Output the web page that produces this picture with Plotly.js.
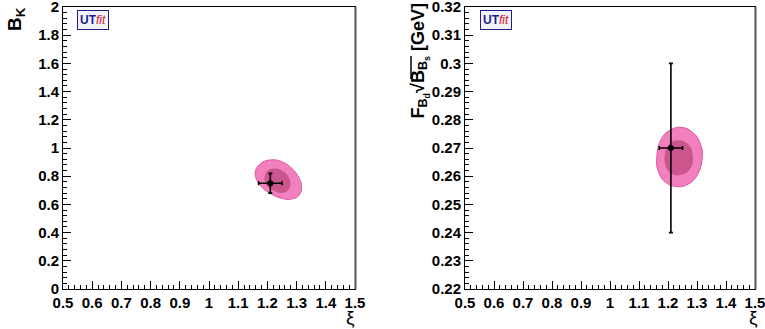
<!DOCTYPE html>
<html>
<head>
<meta charset="utf-8">
<script src="https://cdn.plot.ly/plotly-3.0.1.min.js"></script>
<style>html,body{margin:0;padding:0;background:#fff;}</style>
</head>
<body>
<div id="chart" style="width:765px;height:329px;"></div>
<script>
// ---- Left panel: B_K vs xi ----
const bkPointXi = [1.21];
const bkPointVal = [0.75];
const bkErrXi = [0.04];
const bkErrVal = [0.07];
const bkOuterX = [1.158, 1.175, 1.209, 1.249, 1.283, 1.309, 1.317, 1.309, 1.283, 1.249, 1.209, 1.175, 1.158];
const bkOuterY = [0.820, 0.887, 0.915, 0.903, 0.856, 0.785, 0.726, 0.667, 0.638, 0.643, 0.679, 0.738, 0.820];
const bkInnerX = [1.192, 1.203, 1.226, 1.257, 1.275, 1.274, 1.254, 1.220, 1.198, 1.192];
const bkInnerY = [0.785, 0.839, 0.851, 0.828, 0.773, 0.714, 0.686, 0.702, 0.738, 0.785];

// ---- Right panel: F_Bd sqrt(B_Bs) vs xi ----
const fbPointXi = [1.21];
const fbPointVal = [0.27];
const fbErrXi = [0.04];
const fbErrVal = [0.03];
const fbOuterX = [1.161, 1.178, 1.212, 1.247, 1.287, 1.313, 1.318, 1.304, 1.270, 1.230, 1.190, 1.167, 1.161];
const fbOuterY = [0.2658, 0.2734, 0.2766, 0.2773, 0.2754, 0.2711, 0.2669, 0.2610, 0.2572, 0.2563, 0.2580, 0.2616, 0.2658];
const fbInnerX = [1.190, 1.203, 1.235, 1.270, 1.284, 1.276, 1.247, 1.212, 1.195, 1.190];
const fbInnerY = [0.2669, 0.2711, 0.2726, 0.2711, 0.2669, 0.2628, 0.2607, 0.2610, 0.2634, 0.2669];

const xiRange = [0.49999, 1.50001];
const bkRange = [-0.00001, 2.00001];
const fbRange = [0.219999, 0.320001];

const outerFill = 'rgb(243,128,190)';
const outerLine = 'rgb(222,86,156)';
const innerFill = 'rgb(203,86,142)';

function contour(x, y, fill, line, xa, ya) {
  return {x: x, y: y, xaxis: xa, yaxis: ya, type: 'scatter', mode: 'lines',
    fill: 'toself', fillcolor: fill, line: {color: line, width: 1, shape: 'spline', smoothing: 1.3},
    hoverinfo: 'skip', showlegend: false};
}
function point(x, y, ex, ey, xa, ya) {
  return {x: x, y: y, xaxis: xa, yaxis: ya, type: 'scatter', mode: 'markers',
    marker: {color: 'black', size: 6},
    error_x: {type: 'data', array: ex, color: 'black', thickness: 1.6, width: 2},
    error_y: {type: 'data', array: ey, color: 'black', thickness: 1.6, width: 2},
    showlegend: false};
}

const data = [
  contour(bkOuterX, bkOuterY, outerFill, outerLine, 'x', 'y'),
  contour(bkInnerX, bkInnerY, innerFill, innerFill, 'x', 'y'),
  point(bkPointXi, bkPointVal, bkErrXi, bkErrVal, 'x', 'y'),
  contour(fbOuterX, fbOuterY, outerFill, outerLine, 'x2', 'y2'),
  contour(fbInnerX, fbInnerY, innerFill, innerFill, 'x2', 'y2'),
  point(fbPointXi, fbPointVal, fbErrXi, fbErrVal, 'x2', 'y2')
];

const FONT = 'Liberation Sans, Arial, sans-serif';
const tickFont = {family: FONT, size: 15, color: 'black', weight: 'bold'};
function xAxis(domain, anchor) {
  return {domain: domain, anchor: anchor, range: xiRange, dtick: 0.1, tick0: 0.5,
    ticks: 'inside', ticklen: 8, tickwidth: 1, tickcolor: 'black',
    minor: {dtick: 0.02, ticks: 'inside', ticklen: 4, tickcolor: 'black', tickwidth: 1},
    showline: true, linecolor: 'black', linewidth: 1, mirror: true, ticklabeloverflow: 'allow',
    showgrid: false, zeroline: false, tickfont: tickFont, fixedrange: true};
}
function yAxis(domain, anchor, range, dtick, mdtick, t0) {
  return {domain: domain, anchor: anchor, range: range, dtick: dtick, tick0: t0,
    ticks: 'inside', ticklen: 8, tickwidth: 1, tickcolor: 'black',
    minor: {dtick: mdtick, ticks: 'inside', ticklen: 4, tickcolor: 'black', tickwidth: 1},
    showline: true, linecolor: 'black', linewidth: 1, mirror: true, ticklabeloverflow: 'allow',
    showgrid: false, zeroline: false, tickfont: tickFont, fixedrange: true};
}

const yDom = [1 - 289/329, 1 - 7/329];
const logo = '<span style="color:#1d1d8f"><b>UT</b></span><span style="color:#e0141e"><i>fit</i></span>';
const layout = {
  width: 765, height: 329,
  margin: {l: 0, r: 0, t: 0, b: 0},
  paper_bgcolor: 'white', plot_bgcolor: 'white',
  showlegend: false,
  xaxis: xAxis([63/765, 355/765], 'y'),
  yaxis: yAxis(yDom, 'x', bkRange, 0.2, 0.04, 0),
  xaxis2: xAxis([465/765, 755/765], 'y2'),
  yaxis2: yAxis(yDom, 'x2', fbRange, 0.01, 0.002, 0.22),
  shapes: [
    // ROOT-style frame shadow on the right edges
    {type: 'line', xref: 'paper', yref: 'paper', x0: 355.5/765, x1: 355.5/765, y0: yDom[0], y1: yDom[1],
     line: {color: '#555', width: 2}},
    {type: 'line', xref: 'paper', yref: 'paper', x0: 755.5/765, x1: 755.5/765, y0: yDom[0], y1: yDom[1],
     line: {color: '#555', width: 2}},
    // overline of the square-root sign in the right y title
    {type: 'line', xref: 'paper', yref: 'paper', x0: 411/765, x1: 411/765, y0: 1 - 56/329, y1: 1 - 79/329,
     line: {color: 'black', width: 1.5}}
  ],
  annotations: [
    {xref: 'paper', yref: 'paper', x: 16/765, y: 1 - 5/329, xanchor: 'center', yanchor: 'top',
     textangle: -90, showarrow: false, text: '<b>B<sub>K</sub></b>',
     font: {family: FONT, size: 19, color: 'black'}},
    {xref: 'paper', yref: 'paper', x: 420/765, y: 1 - 2/329, xanchor: 'center', yanchor: 'top',
     textangle: -90, showarrow: false,
     text: '<b>F<sub>B<sub>d</sub></sub>√B<sub>B<sub>s</sub></sub> [GeV]</b>',
     font: {family: FONT, size: 18, color: 'black'}},
    {xref: 'paper', yref: 'paper', x: 350/765, y: 1 - 317/329, xanchor: 'center', yanchor: 'middle',
     showarrow: false, text: 'ξ', font: {family: FONT, size: 19, color: 'black'}},
    {xref: 'paper', yref: 'paper', x: 753/765, y: 1 - 317/329, xanchor: 'center', yanchor: 'middle',
     showarrow: false, text: 'ξ', font: {family: FONT, size: 19, color: 'black'}},
    {xref: 'paper', yref: 'paper', x: 77/765, y: 1 - 10/329, xanchor: 'left', yanchor: 'top',
     showarrow: false, bordercolor: '#1d1d8f', borderwidth: 1, bgcolor: '#f2f2fb', borderpad: 2,
     text: logo, font: {family: FONT, size: 12}},
    {xref: 'paper', yref: 'paper', x: 480/765, y: 1 - 10/329, xanchor: 'left', yanchor: 'top',
     showarrow: false, bordercolor: '#1d1d8f', borderwidth: 1, bgcolor: '#f2f2fb', borderpad: 2,
     text: logo, font: {family: FONT, size: 12}}
  ]
};

Plotly.newPlot('chart', data, layout, {displayModeBar: false, staticPlot: true});
</script>
</body>
</html>
